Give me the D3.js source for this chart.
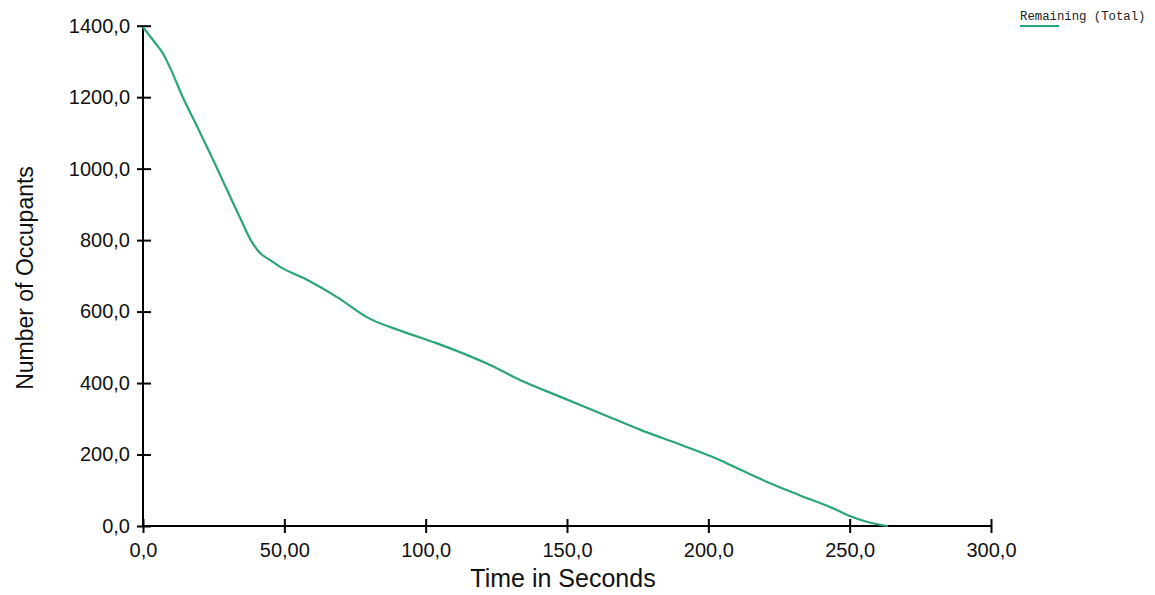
<!DOCTYPE html>
<html>
<head>
<meta charset="utf-8">
<script src="https://cdn.jsdelivr.net/npm/d3@7"></script>
<style>
  html, body { margin: 0; padding: 0; background: #fff; }
  svg { display: block; }
  .tick text { font-family: "Liberation Sans", Arial, sans-serif; font-size: 20px; fill: #111; }
</style>
</head>
<body>
<svg id="chart" width="1155" height="595"></svg>
<script>
// Evacuation curve: occupants remaining over time
const timeSeconds = [0, 4, 7, 10, 14, 19, 24, 28, 34, 38.5, 41.5, 45, 48.5, 57, 68.5, 80, 92, 104, 116, 123, 133, 147.5, 162, 176, 190, 204, 211, 220.6, 232, 244, 250, 256, 263.5];
const remaining   = [1396, 1355, 1323, 1275, 1201, 1120, 1038, 970, 868, 795, 763, 744, 725, 693, 641, 581, 544, 511, 474, 450, 410, 362, 315, 269, 228, 185, 159, 124, 87, 50, 28, 12, 0];

const xTicks = [0, 50, 100, 150, 200, 250, 300];
const xTickLabels = ["0,0", "50,00", "100,0", "150,0", "200,0", "250,0", "300,0"];
const yTicks = [0, 200, 400, 600, 800, 1000, 1200, 1400];
const yTickLabels = ["0,0", "200,0", "400,0", "600,0", "800,0", "1000,0", "1200,0", "1400,0"];

const seriesName = "Remaining (Total)";
const lineColor = "#2aa674";

const svg = d3.select("#chart");

const x = d3.scaleLinear().domain([0, 300]).range([143, 991]);
const y = d3.scaleLinear().domain([0, 1400]).range([526, 25.7]);

// X axis: ticks cross the axis line
const xAxis = svg.append("g").attr("transform", `translate(0,${y(0)})`)
  .call(d3.axisBottom(x).tickValues(xTicks)
    .tickFormat((d, i) => xTickLabels[i]).tickSize(0).tickPadding(22));
xAxis.select(".domain").attr("stroke", "#000").attr("stroke-width", 2).attr("d", `M${x(0)},0H${x(300)}`);
xAxis.selectAll(".tick").append("line").attr("y1", -7).attr("y2", 7).attr("stroke", "#000").attr("stroke-width", 2);
xAxis.selectAll(".tick text").attr("dy", "0.71em").attr("y", 17);

// Y axis
const yAxis = svg.append("g").attr("transform", `translate(${x(0)},0)`)
  .call(d3.axisLeft(y).tickValues(yTicks)
    .tickFormat((d, i) => yTickLabels[i]).tickSize(0).tickPadding(13));
yAxis.select(".domain").attr("stroke", "#000").attr("stroke-width", 2).attr("d", `M0,${y(0)}V${y(1400)}`);
yAxis.selectAll(".tick").append("line").attr("x1", -6).attr("x2", 8).attr("stroke", "#000").attr("stroke-width", 2);

// Axis titles
svg.append("text")
  .attr("x", 563).attr("y", 587)
  .attr("text-anchor", "middle")
  .style("font-family", "'Liberation Sans', Arial, sans-serif")
  .style("font-size", "25px").style("fill", "#111")
  .text("Time in Seconds");

svg.append("text")
  .attr("transform", "translate(33,278) rotate(-90)")
  .attr("text-anchor", "middle")
  .style("font-family", "'Liberation Sans', Arial, sans-serif")
  .style("font-size", "23px").style("fill", "#111")
  .text("Number of Occupants");

// Data line
const data = timeSeconds.map((t, i) => ({ t, v: remaining[i] }));
svg.append("path")
  .datum(data)
  .attr("fill", "none")
  .attr("stroke", lineColor)
  .attr("stroke-width", 2.2)
  .attr("stroke-linejoin", "round")
  .attr("d", d3.line().x(d => x(d.t)).y(d => y(d.v)).curve(d3.curveMonotoneX));

// Legend
const legend = svg.append("g").attr("transform", "translate(1020,20)");
legend.append("text")
  .style("font-family", "'Liberation Mono', 'Courier New', monospace")
  .style("font-size", "12.3px").style("fill", "#222")
  .text(seriesName);
legend.append("line").attr("x1", 0).attr("x2", 39).attr("y1", 6).attr("y2", 6)
  .attr("stroke", lineColor).attr("stroke-width", 2);
</script>
</body>
</html>
